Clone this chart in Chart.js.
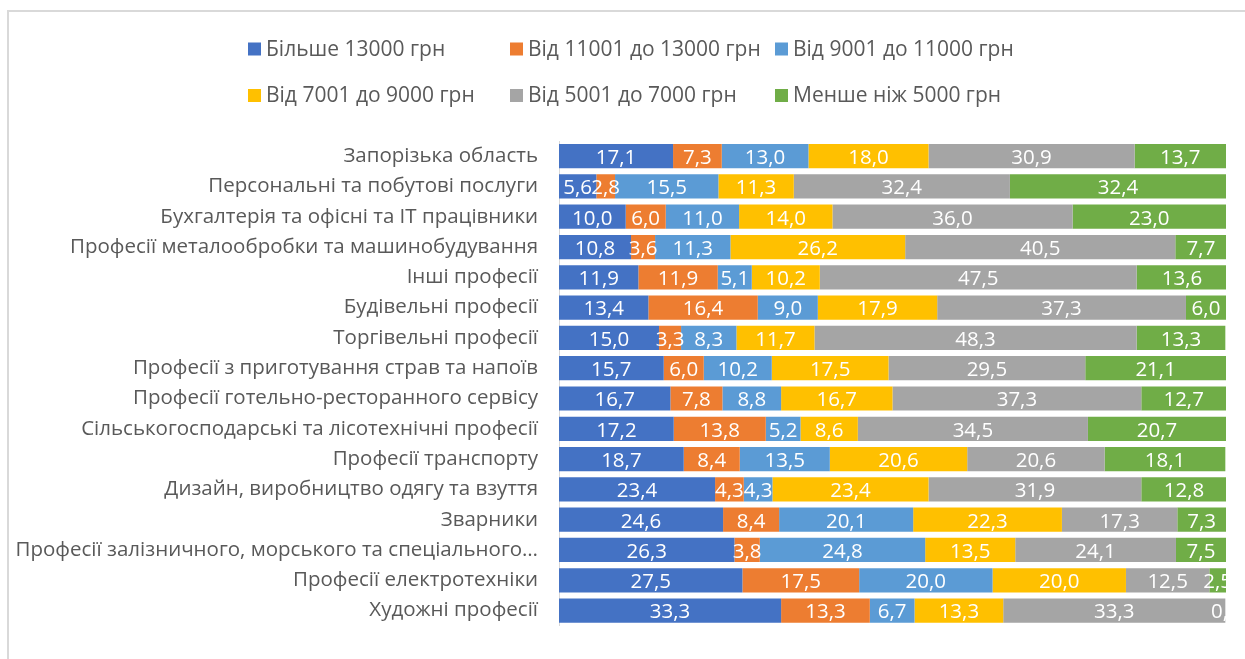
<!DOCTYPE html>
<html>
<head>
<meta charset="utf-8">
<script src="https://cdn.jsdelivr.net/npm/chart.js@4.4.1/dist/chart.umd.min.js"></script>
<style>
  html, body { margin: 0; padding: 0; background: #ffffff; }
  #frame { position: absolute; left: 7px; top: 10px; width: 1300px; height: 700px; border: 2px solid #d9d9d9; box-sizing: border-box; }
  #wrap { position: absolute; left: 0; top: 0; width: 1245px; height: 659px; }
</style>
</head>
<body>
<div id="frame"></div>
<div id="wrap"><canvas id="c"></canvas></div>
<script>
const categories = [
  "Запорізька область",
  "Персональні та побутові послуги",
  "Бухгалтерія та офісні та ІТ працівники",
  "Професії металообробки та машинобудування",
  "Інші професії",
  "Будівельні професії",
  "Торгівельні професії",
  "Професії з приготування страв та напоїв",
  "Професії готельно-ресторанного сервісу",
  "Сільськогосподарські та лісотехнічні професії",
  "Професії транспорту",
  "Дизайн, виробництво одягу та взуття",
  "Зварники",
  "Професії залізничного, морського та спеціального…",
  "Професії електротехніки",
  "Художні професії"
];
const seriesNames = [
  "Більше 13000 грн",
  "Від 11001 до 13000 грн",
  "Від 9001 до 11000 грн",
  "Від 7001 до 9000 грн",
  "Від 5001 до 7000 грн",
  "Менше ніж 5000 грн"
];
const over13000     = [17.1, 5.6, 10.0, 10.8, 11.9, 13.4, 15.0, 15.7, 16.7, 17.2, 18.7, 23.4, 24.6, 26.3, 27.5, 33.3];
const from11001     = [7.3, 2.8, 6.0, 3.6, 11.9, 16.4, 3.3, 6.0, 7.8, 13.8, 8.4, 4.3, 8.4, 3.8, 17.5, 13.3];
const from9001      = [13.0, 15.5, 11.0, 11.3, 5.1, 9.0, 8.3, 10.2, 8.8, 5.2, 13.5, 4.3, 20.1, 24.8, 20.0, 6.7];
const from7001      = [18.0, 11.3, 14.0, 26.2, 10.2, 17.9, 11.7, 17.5, 16.7, 8.6, 20.6, 23.4, 22.3, 13.5, 20.0, 13.3];
const from5001      = [30.9, 32.4, 36.0, 40.5, 47.5, 37.3, 48.3, 29.5, 37.3, 34.5, 20.6, 31.9, 17.3, 24.1, 12.5, 33.3];
const under5000     = [13.7, 32.4, 23.0, 7.7, 13.6, 6.0, 13.3, 21.1, 12.7, 20.7, 18.1, 12.8, 7.3, 7.5, 2.5, 0.0];
const seriesValues = [over13000, from11001, from9001, from7001, from5001, under5000];
const colors = ["#4472C4", "#ED7D31", "#5B9BD5", "#FFC000", "#A5A5A5", "#70AD47"];

const FONT = "'Open Sans', sans-serif";
const TEXT = "#595959";

const dataLabels = {
  id: 'dataLabels',
  afterDatasetsDraw(chart) {
    const ctx = chart.ctx;
    const a = chart.chartArea;
    ctx.save();
    ctx.beginPath();
    ctx.rect(a.left, a.top, a.right - a.left, a.bottom - a.top);
    ctx.clip();
    ctx.font = "20.5px " + FONT;
    ctx.fillStyle = "#ffffff";
    ctx.textAlign = "center";
    ctx.textBaseline = "middle";
    chart.data.datasets.forEach((ds, i) => {
      const meta = chart.getDatasetMeta(i);
      meta.data.forEach((el, j) => {
        const p = el.getProps(['x', 'y', 'base'], true);
        const v = ds.data[j];
        ctx.fillText(v.toFixed(1).replace('.', ','), (p.x + p.base) / 2, p.y + 2);
      });
    });
    ctx.restore();
  }
};

const gridLegend = {
  id: 'gridLegend',
  afterDraw(chart) {
    const ctx = chart.ctx;
    const colX = [248, 510, 775];
    const rowY = [49, 95.5];
    ctx.save();
    ctx.font = "21px " + FONT;
    ctx.textBaseline = "middle";
    ctx.textAlign = "left";
    chart.data.datasets.forEach((ds, i) => {
      const x = colX[i % 3];
      const y = rowY[Math.floor(i / 3)];
      ctx.fillStyle = ds.backgroundColor;
      ctx.fillRect(x, y - 6.5, 13, 13);
      ctx.fillStyle = TEXT;
      ctx.fillText(ds.label, x + 18, y + 1);
    });
    ctx.restore();
  }
};

new Chart(document.getElementById('c'), {
  type: 'bar',
  data: {
    labels: categories,
    datasets: seriesNames.map((name, i) => ({
      label: name,
      data: seriesValues[i],
      backgroundColor: colors[i],
      borderWidth: 0,
      barPercentage: 0.8,
      categoryPercentage: 1.0
    }))
  },
  options: {
    indexAxis: 'y',
    responsive: true,
    maintainAspectRatio: false,
    animation: false,
    layout: { padding: { top: 141, right: 19, bottom: 19, left: 0 } },
    plugins: {
      legend: { display: false },
      tooltip: { enabled: false },
      title: { display: false }
    },
    scales: {
      x: {
        stacked: true,
        min: 0,
        max: 100,
        display: false
      },
      y: {
        stacked: true,
        grid: { display: false, drawTicks: false },
        border: { display: true, color: '#d9d9d9', width: 1 },
        ticks: { color: TEXT, font: { family: FONT, size: 20.5 }, padding: 21, autoSkip: false },
        afterFit(scale) { scale.width = 559; }
      }
    }
  },
  plugins: [dataLabels, gridLegend]
});
</script>
</body>
</html>
